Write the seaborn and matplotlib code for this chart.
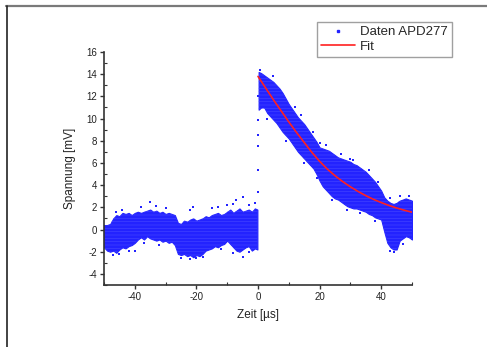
import numpy as np
import pandas as pd
import matplotlib
matplotlib.use("Agg")
import matplotlib.pyplot as plt
from matplotlib.lines import Line2D
from matplotlib.ticker import MultipleLocator
import seaborn as sns

sns.set_theme(style="white")
plt.rcParams['font.family'] = ['Liberation Sans', 'DejaVu Sans']
plt.rcParams['axes.unicode_minus'] = False
plt.rcParams['hatch.linewidth'] = 0.3

# ---- data ----
# band of measured points before the pulse (time in µs, voltage envelope in mV)
t_pre = [-50, -49, -48, -47, -46, -45, -44, -43, -42, -41, -40, -39, -38, -37, -36,
         -35, -34, -33, -32, -31, -30, -29, -28, -27, -26, -25, -24, -23, -22, -21,
         -20, -19, -18, -17, -16, -15, -14, -13, -12, -11, -10, -9, -8, -7, -6,
         -5, -4, -3, -2, -1, -0.2]
u_pre_hi = [0.4, 0.4, 0.5, 1.0, 1.3, 1.2, 1.5, 1.4, 1.5, 1.3, 1.5, 1.6, 1.5, 1.6, 1.7,
            1.8, 1.6, 1.7, 1.5, 1.6, 1.4, 1.5, 1.4, 1.3, 0.6, 0.5, 0.8, 0.7, 0.9, 1.0,
            0.8, 0.9, 1.0, 1.2, 1.1, 1.3, 1.4, 1.5, 1.3, 1.4, 1.6, 1.8, 1.5, 1.7, 1.9,
            1.6, 1.7, 1.8, 1.6, 1.9, 1.8]
u_pre_lo = [-1.6, -1.9, -2.0, -1.9, -2.1, -1.8, -1.6, -1.7, -1.5, -1.4, -1.2, -0.9, -0.7, -0.9, -0.6,
            -0.8, -0.9, -1.0, -0.9, -1.1, -1.0, -1.2, -1.1, -1.4, -2.2, -2.3, -2.2, -2.4, -2.3, -2.5,
            -2.3, -2.4, -2.2, -1.9, -1.8, -1.7, -1.5, -1.6, -1.4, -1.3, -1.0, -1.3, -1.6, -1.9, -2.0,
            -1.8, -1.6, -1.5, -1.9, -1.7, -1.8]

# band of measured points after the pulse
t_post = [0.2, 1, 2, 3, 4, 5, 6, 7, 8, 9, 10, 11, 12, 13, 14, 15, 16, 17, 18, 19, 20,
          21, 22, 23, 24, 25, 26, 27, 28, 29, 30, 31, 32, 33, 34, 35, 36, 37, 38, 39, 40,
          41, 42, 43, 44, 45, 46, 47, 48, 49, 50]
u_post_hi = [14.2, 14.1, 13.9, 13.7, 13.5, 13.3, 13.0, 12.7, 12.3, 11.8, 11.3, 10.9, 10.5, 10.1, 9.8,
             9.5, 9.1, 8.7, 8.3, 7.9, 7.4, 7.3, 7.2, 7.1, 6.9, 6.7, 6.5, 6.4, 6.3, 6.2, 6.1,
             5.9, 5.8, 5.6, 5.4, 5.2, 4.9, 4.6, 4.3, 3.9, 3.5, 2.9, 2.6, 2.4, 2.3, 2.4, 2.6,
             2.7, 2.8, 2.7, 2.6]
u_post_lo = [10.8, 11.0, 11.0, 10.5, 10.2, 9.9, 9.6, 9.2, 8.8, 8.5, 8.2, 7.8, 7.4, 7.0, 6.7,
             6.4, 6.1, 5.8, 5.5, 5.0, 4.4, 3.9, 3.6, 3.3, 3.0, 2.8, 2.7, 2.5, 2.3, 2.1, 2.0,
             1.9, 1.9, 1.8, 1.7, 1.6, 1.4, 1.3, 1.1, 1.0, 0.9, -0.2, -1.2, -1.6, -1.8, -1.8, -1.0,
             -0.8, -0.6, -0.7, -0.9]

# isolated data points around the bands
t_pts = [0, 0, 0, 0, 0, 0, -35, -21, -22, -7, -5, -10, -47, -20, -22, -5, -40,
         -38, -33, -30, -44, -46, -15, -13, -8, -3, -1,
         -45, -42, -37, -32, -25, -18, -12, -8, -3,
         5, 12, 14, 18, 22, 27, 31, 36, 39, 43, 46, 49,
         3, 9, 15, 19, 24, 29, 33, 38, 43, 47, 0.5, 20, 30, 44]
u_pts = [12.0, 9.9, 8.5, 7.5, 5.4, 3.4, 2.5, 2.0, 1.8, 2.7, 2.9, 2.2, -2.3, -2.6, -2.7, -2.5, -1.9,
         2.0, 2.1, 1.9, 1.8, 1.6, 1.9, 2.0, 2.3, 2.2, 2.4,
         -2.2, -1.9, -1.2, -1.4, -2.6, -2.5, -1.8, -2.1, -2.0,
         13.8, 11.0, 10.3, 8.8, 7.6, 6.8, 6.3, 5.4, 4.3, 2.8, 3.0, 3.0,
         10.0, 8.0, 6.0, 4.6, 2.7, 1.8, 1.5, 0.8, -1.9, -1.3, 14.4, 7.8, 6.4, -2.0]

# fit curve
t_fit = [0, 2.5, 5, 7.5, 10, 12.5, 15, 17.5, 20, 22.5, 25, 27.5, 30, 32.5, 35,
         37.5, 40, 42.5, 45, 47.5, 50]
u_fit = [13.8, 12.75, 11.7, 10.7, 9.7, 8.75, 7.85, 6.95, 6.15, 5.45, 4.85, 4.32, 3.85, 3.43, 3.05,
         2.72, 2.43, 2.17, 1.94, 1.74, 1.56]

x_ticks = [-40, -20, 0, 20, 40]
y_ticks = [-4, -2, 0, 2, 4, 6, 8, 10, 12, 14, 16]

# ---- figure ----
W, H = 487, 347
fig = plt.figure(figsize=(W / 100, H / 100), dpi=100)
fig.patch.set_facecolor('white')
ax = fig.add_axes([104 / W, 1 - 285 / H, (412 - 104) / W, (285 - 52) / H])
ax.set_facecolor('white')

blue = '#2323ff'
stripe = '#5454ff'
for tt, lo, hi in [(t_pre, u_pre_lo, u_pre_hi), (t_post, u_post_lo, u_post_hi)]:
    ax.fill_between(tt, lo, hi, color=blue, linewidth=0.8, edgecolor=blue)
    ax.fill_between(tt, lo, hi, facecolor='none', edgecolor=stripe, hatch='-----',
                    linewidth=0)

pts = pd.DataFrame({'t': t_pts, 'u': u_pts})
sns.scatterplot(data=pts, x='t', y='u', ax=ax, color=blue, s=2.5, marker='s',
                linewidth=0, legend=False)

fit = pd.DataFrame({'t': t_fit, 'u': u_fit})
sns.lineplot(data=fit, x='t', y='u', ax=ax, color='#ff2020', linewidth=1.2,
             legend=False, sort=False)

ax.set_xlim(-50, 50)
ax.set_ylim(-5, 16)
ax.set_xticks(x_ticks)
ax.set_yticks(y_ticks)
ax.xaxis.set_minor_locator(MultipleLocator(10))
ax.yaxis.set_minor_locator(MultipleLocator(1))

for s in ['top', 'right']:
    ax.spines[s].set_visible(False)
for s in ['left', 'bottom']:
    ax.spines[s].set_color('#333333')
    ax.spines[s].set_linewidth(1.2)
    ax.spines[s].set_visible(True)

ax.tick_params(axis='both', which='major', direction='out', length=3, width=1,
               color='#333333', labelsize=7, labelcolor='#222222', pad=2, left=True, bottom=True)
ax.tick_params(axis='both', which='minor', direction='in', length=2, width=0.8,
               color='#333333', left=True, bottom=True)
ax.grid(False)

ax.set_xlabel('Zeit [µs]', fontsize=8.5, color='#222222', labelpad=5)
ax.set_ylabel('Spannung [mV]', fontsize=8.5, color='#222222', labelpad=7)

handles = [Line2D([], [], linestyle='none', marker='s', markersize=1.5, color=blue),
           Line2D([], [], color='#ff2020', linewidth=1.2)]
leg = fig.legend(handles, ['Daten APD277', 'Fit'], loc='upper left',
                 bbox_to_anchor=(317 / W, 1 - 22 / H), frameon=True, fancybox=False,
                 fontsize=9.5, borderpad=0.3, labelspacing=0.2, handlelength=2.6,
                 handletextpad=0.35, borderaxespad=0)
leg.get_frame().set_edgecolor('#888888')
leg.get_frame().set_linewidth(1.0)

# outer frame of the screenshot
fig.add_artist(Line2D([6 / W, 1], [1 - 6 / H, 1 - 6 / H], transform=fig.transFigure,
                      color='#7a7a7a', linewidth=1.6))
fig.add_artist(Line2D([6.5 / W, 6.5 / W], [0, 1 - 6 / H], transform=fig.transFigure,
                      color='#222222', linewidth=1.2))

fig.savefig('out.png', dpi=100, facecolor='white')
